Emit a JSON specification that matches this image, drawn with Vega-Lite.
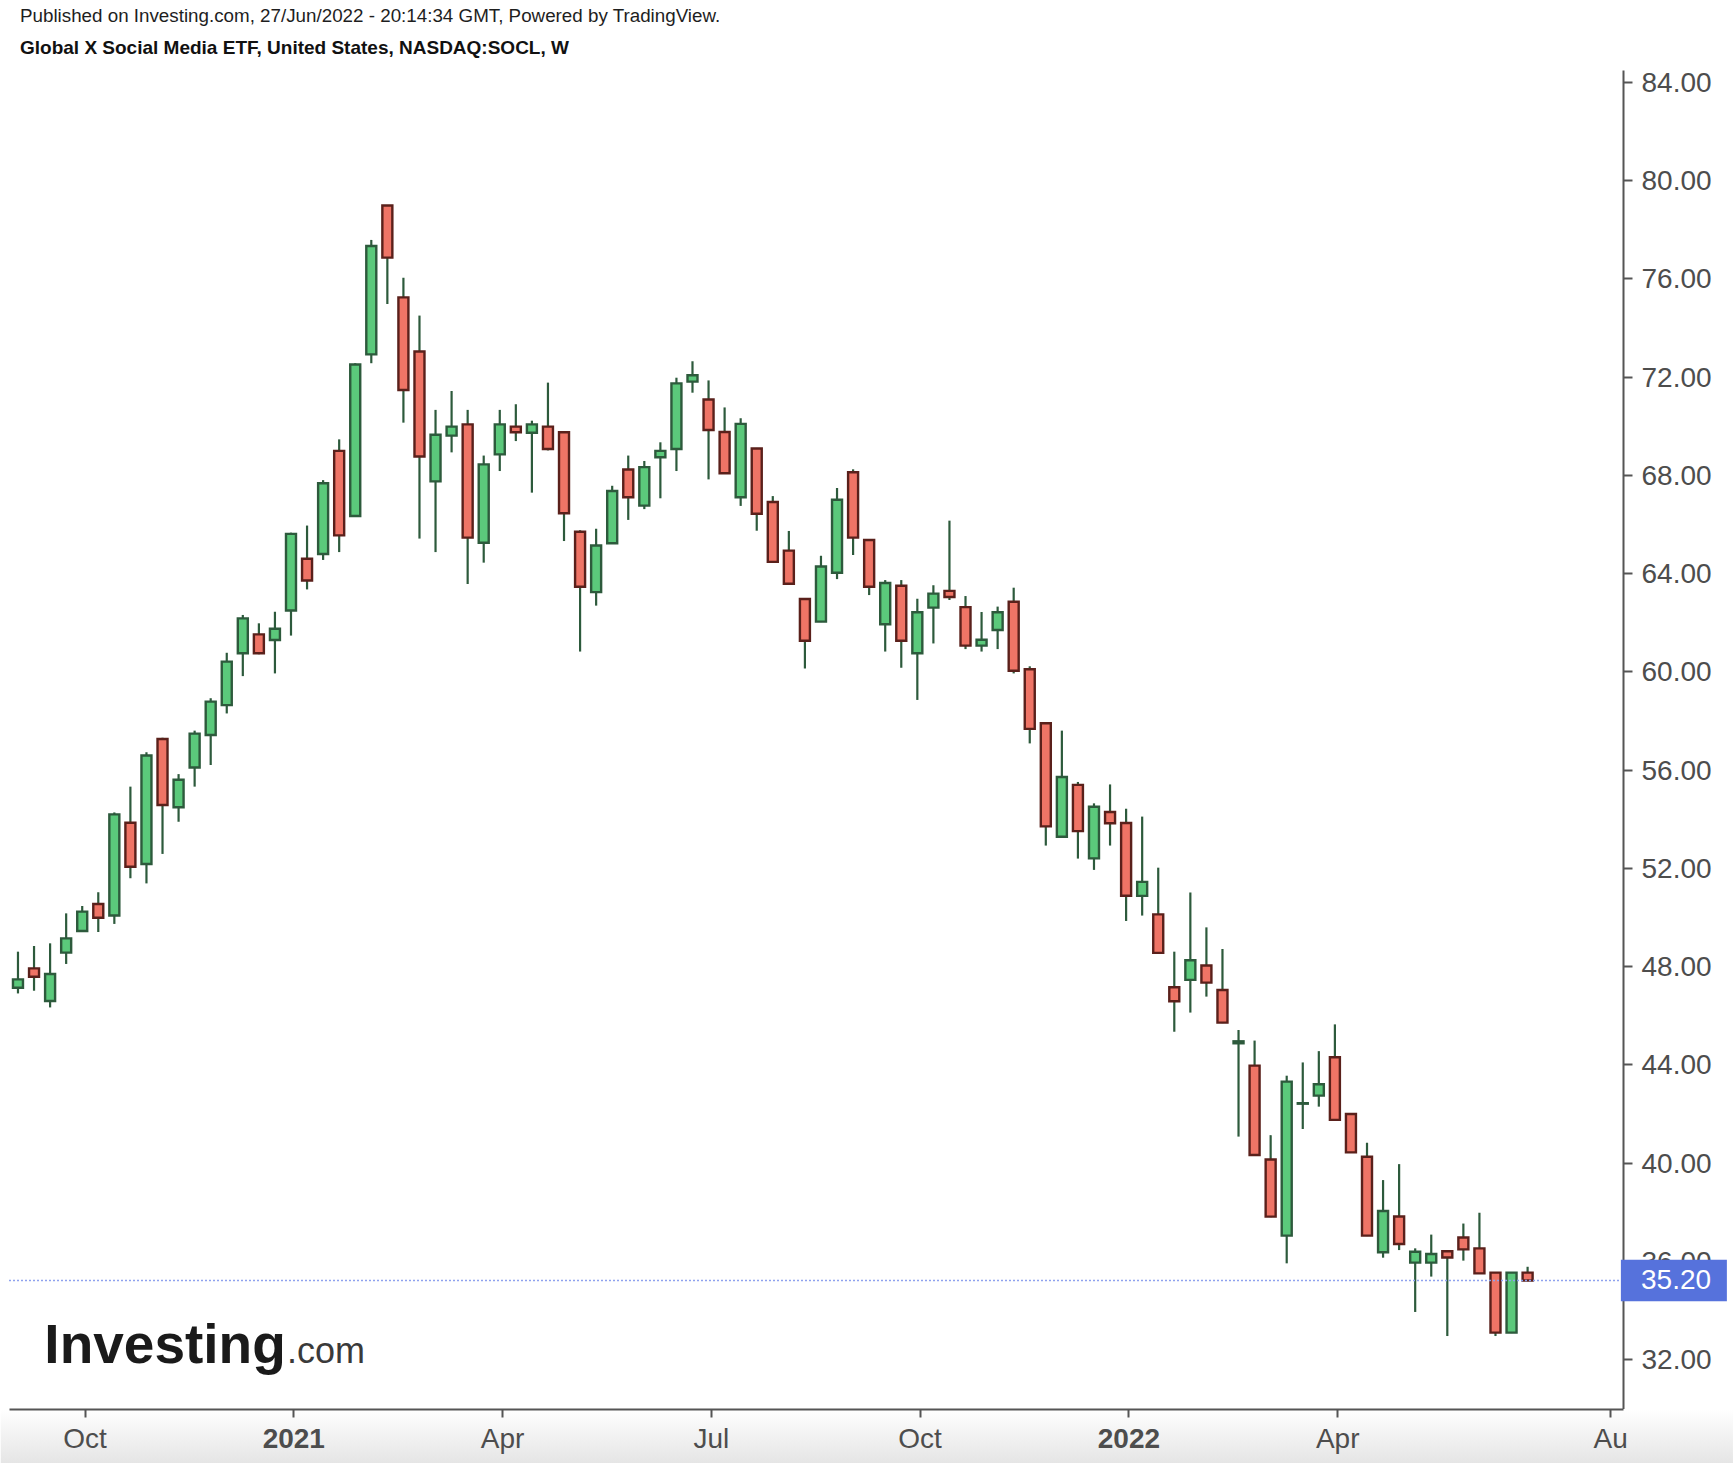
{
  "$schema": "https://vega.github.io/schema/vega-lite/v6.json",
  "width": 1614,
  "height": 1339,
  "autosize": {"type": "none"},
  "padding": {"left": 9, "top": 70, "right": 111, "bottom": 54},
  "background": "#ffffff",
  "config": {"view": {"stroke": null}, "font": "Liberation Sans"},
  "title": {
    "text": "Published on Investing.com, 27/Jun/2022 - 20:14:34 GMT, Powered by TradingView.",
    "subtitle": "Global X Social Media ETF, United States, NASDAQ:SOCL, W",
    "anchor": "start", "frame": "group", "dx": 11, "offset": 12,
    "font": "Liberation Sans", "fontSize": 18.8, "fontWeight": "normal", "color": "#1e1e1e",
    "subtitleFont": "Liberation Sans", "subtitleFontSize": 19, "subtitleFontWeight": "bold",
    "subtitleColor": "#111111", "subtitlePadding": 13
  },
  "datasets": {
    "candles": [
      {"date": "2020-09-07", "open": 47.12, "high": 48.59, "low": 46.89, "close": 47.46},
      {"date": "2020-09-14", "open": 47.91, "high": 48.82, "low": 47.00, "close": 47.57},
      {"date": "2020-09-21", "open": 46.58, "high": 48.93, "low": 46.32, "close": 47.68},
      {"date": "2020-09-28", "open": 48.55, "high": 50.15, "low": 48.09, "close": 49.13},
      {"date": "2020-10-05", "open": 49.43, "high": 50.45, "low": 49.40, "close": 50.22},
      {"date": "2020-10-12", "open": 50.53, "high": 51.01, "low": 49.39, "close": 49.97},
      {"date": "2020-10-19", "open": 50.06, "high": 54.26, "low": 49.72, "close": 54.18},
      {"date": "2020-10-26", "open": 53.84, "high": 55.31, "low": 51.58, "close": 52.05},
      {"date": "2020-11-02", "open": 52.16, "high": 56.71, "low": 51.37, "close": 56.58},
      {"date": "2020-11-09", "open": 57.25, "high": 57.30, "low": 52.57, "close": 54.56},
      {"date": "2020-11-16", "open": 54.47, "high": 55.82, "low": 53.88, "close": 55.59},
      {"date": "2020-11-23", "open": 56.09, "high": 57.59, "low": 55.31, "close": 57.47},
      {"date": "2020-11-30", "open": 57.41, "high": 58.91, "low": 56.19, "close": 58.77},
      {"date": "2020-12-07", "open": 58.63, "high": 60.76, "low": 58.29, "close": 60.40},
      {"date": "2020-12-14", "open": 60.74, "high": 62.30, "low": 59.81, "close": 62.16},
      {"date": "2020-12-21", "open": 61.51, "high": 61.96, "low": 60.70, "close": 60.74},
      {"date": "2020-12-28", "open": 61.28, "high": 62.43, "low": 59.92, "close": 61.74},
      {"date": "2021-01-04", "open": 62.48, "high": 65.65, "low": 61.46, "close": 65.60},
      {"date": "2021-01-11", "open": 64.59, "high": 65.94, "low": 63.34, "close": 63.70},
      {"date": "2021-01-18", "open": 64.78, "high": 67.79, "low": 64.54, "close": 67.66},
      {"date": "2021-01-25", "open": 68.98, "high": 69.45, "low": 64.86, "close": 65.54},
      {"date": "2021-02-01", "open": 66.33, "high": 72.55, "low": 66.30, "close": 72.50},
      {"date": "2021-02-08", "open": 72.91, "high": 77.57, "low": 72.55, "close": 77.32},
      {"date": "2021-02-15", "open": 78.97, "high": 78.99, "low": 74.96, "close": 76.85},
      {"date": "2021-02-22", "open": 75.23, "high": 76.03, "low": 70.13, "close": 71.46},
      {"date": "2021-03-01", "open": 73.03, "high": 74.49, "low": 65.41, "close": 68.75},
      {"date": "2021-03-08", "open": 67.74, "high": 70.65, "low": 64.86, "close": 69.64},
      {"date": "2021-03-15", "open": 69.60, "high": 71.42, "low": 68.92, "close": 69.97},
      {"date": "2021-03-22", "open": 70.06, "high": 70.65, "low": 63.56, "close": 65.45},
      {"date": "2021-03-29", "open": 65.24, "high": 68.79, "low": 64.43, "close": 68.43},
      {"date": "2021-04-05", "open": 68.84, "high": 70.65, "low": 68.16, "close": 70.06},
      {"date": "2021-04-12", "open": 69.97, "high": 70.88, "low": 69.38, "close": 69.74},
      {"date": "2021-04-19", "open": 69.72, "high": 70.21, "low": 67.28, "close": 70.06},
      {"date": "2021-04-26", "open": 69.97, "high": 71.76, "low": 69.00, "close": 69.06},
      {"date": "2021-05-03", "open": 69.74, "high": 69.76, "low": 65.31, "close": 66.44},
      {"date": "2021-05-10", "open": 65.69, "high": 65.75, "low": 60.81, "close": 63.45},
      {"date": "2021-05-17", "open": 63.23, "high": 65.81, "low": 62.68, "close": 65.13},
      {"date": "2021-05-24", "open": 65.22, "high": 67.56, "low": 65.20, "close": 67.35},
      {"date": "2021-05-31", "open": 68.22, "high": 68.79, "low": 66.17, "close": 67.09},
      {"date": "2021-06-07", "open": 66.75, "high": 68.57, "low": 66.61, "close": 68.32},
      {"date": "2021-06-14", "open": 68.72, "high": 69.33, "low": 67.05, "close": 68.98},
      {"date": "2021-06-21", "open": 69.06, "high": 71.96, "low": 68.16, "close": 71.73},
      {"date": "2021-06-28", "open": 71.80, "high": 72.63, "low": 71.35, "close": 72.06},
      {"date": "2021-07-05", "open": 71.07, "high": 71.85, "low": 67.82, "close": 69.83},
      {"date": "2021-07-12", "open": 69.75, "high": 70.75, "low": 68.05, "close": 68.07},
      {"date": "2021-07-19", "open": 67.09, "high": 70.31, "low": 66.74, "close": 70.08},
      {"date": "2021-07-26", "open": 69.08, "high": 69.10, "low": 65.73, "close": 66.42},
      {"date": "2021-08-02", "open": 66.90, "high": 67.14, "low": 64.44, "close": 64.46},
      {"date": "2021-08-09", "open": 64.92, "high": 65.72, "low": 63.55, "close": 63.57},
      {"date": "2021-08-16", "open": 62.95, "high": 62.97, "low": 60.12, "close": 61.25},
      {"date": "2021-08-23", "open": 62.03, "high": 64.71, "low": 62.01, "close": 64.27},
      {"date": "2021-08-30", "open": 64.02, "high": 67.47, "low": 63.76, "close": 66.99},
      {"date": "2021-09-06", "open": 68.11, "high": 68.23, "low": 64.74, "close": 65.45},
      {"date": "2021-09-13", "open": 65.35, "high": 65.37, "low": 63.11, "close": 63.45},
      {"date": "2021-09-20", "open": 61.92, "high": 63.72, "low": 60.81, "close": 63.60},
      {"date": "2021-09-27", "open": 63.49, "high": 63.72, "low": 60.15, "close": 61.25},
      {"date": "2021-10-04", "open": 60.74, "high": 62.96, "low": 58.84, "close": 62.41},
      {"date": "2021-10-11", "open": 62.60, "high": 63.51, "low": 61.14, "close": 63.17},
      {"date": "2021-10-18", "open": 63.28, "high": 66.14, "low": 62.91, "close": 63.03},
      {"date": "2021-10-25", "open": 62.62, "high": 63.07, "low": 60.91, "close": 61.05},
      {"date": "2021-11-01", "open": 61.05, "high": 62.42, "low": 60.81, "close": 61.29},
      {"date": "2021-11-08", "open": 61.69, "high": 62.64, "low": 60.91, "close": 62.41},
      {"date": "2021-11-15", "open": 62.84, "high": 63.41, "low": 59.92, "close": 60.03},
      {"date": "2021-11-22", "open": 60.09, "high": 60.21, "low": 57.07, "close": 57.66},
      {"date": "2021-11-29", "open": 57.89, "high": 57.91, "low": 52.91, "close": 53.69},
      {"date": "2021-12-06", "open": 53.27, "high": 57.59, "low": 53.25, "close": 55.70},
      {"date": "2021-12-13", "open": 55.38, "high": 55.50, "low": 52.38, "close": 53.50},
      {"date": "2021-12-20", "open": 52.39, "high": 54.63, "low": 51.92, "close": 54.49},
      {"date": "2021-12-27", "open": 54.28, "high": 55.40, "low": 52.91, "close": 53.82},
      {"date": "2022-01-03", "open": 53.83, "high": 54.41, "low": 49.84, "close": 50.87},
      {"date": "2022-01-10", "open": 50.86, "high": 54.09, "low": 50.06, "close": 51.43},
      {"date": "2022-01-17", "open": 50.11, "high": 52.01, "low": 48.52, "close": 48.54},
      {"date": "2022-01-24", "open": 47.14, "high": 48.59, "low": 45.33, "close": 46.57},
      {"date": "2022-01-31", "open": 47.44, "high": 51.00, "low": 46.11, "close": 48.24},
      {"date": "2022-02-07", "open": 48.03, "high": 49.58, "low": 46.76, "close": 47.33},
      {"date": "2022-02-14", "open": 47.03, "high": 48.70, "low": 45.68, "close": 45.70},
      {"date": "2022-02-21", "open": 44.86, "high": 45.40, "low": 41.06, "close": 44.94},
      {"date": "2022-02-28", "open": 43.95, "high": 44.97, "low": 40.29, "close": 40.31},
      {"date": "2022-03-07", "open": 40.13, "high": 41.12, "low": 37.78, "close": 37.80},
      {"date": "2022-03-14", "open": 37.03, "high": 43.54, "low": 35.90, "close": 43.30},
      {"date": "2022-03-21", "open": 42.40, "high": 44.08, "low": 41.37, "close": 42.42},
      {"date": "2022-03-28", "open": 42.73, "high": 44.54, "low": 42.28, "close": 43.19},
      {"date": "2022-04-04", "open": 44.29, "high": 45.63, "low": 41.72, "close": 41.74},
      {"date": "2022-04-11", "open": 41.98, "high": 42.00, "low": 40.40, "close": 40.42},
      {"date": "2022-04-18", "open": 40.24, "high": 40.81, "low": 37.01, "close": 37.03},
      {"date": "2022-04-25", "open": 36.35, "high": 39.29, "low": 36.13, "close": 38.03},
      {"date": "2022-05-02", "open": 37.81, "high": 39.94, "low": 36.44, "close": 36.69},
      {"date": "2022-05-09", "open": 35.93, "high": 36.51, "low": 33.92, "close": 36.37},
      {"date": "2022-05-16", "open": 35.93, "high": 37.07, "low": 35.36, "close": 36.28},
      {"date": "2022-05-23", "open": 36.39, "high": 36.41, "low": 32.94, "close": 36.14},
      {"date": "2022-05-30", "open": 36.95, "high": 37.52, "low": 36.01, "close": 36.47},
      {"date": "2022-06-06", "open": 36.51, "high": 37.96, "low": 35.47, "close": 35.49},
      {"date": "2022-06-13", "open": 35.52, "high": 35.54, "low": 32.94, "close": 33.08},
      {"date": "2022-06-20", "open": 33.08, "high": 35.52, "low": 33.06, "close": 35.52},
      {"date": "2022-06-27", "open": 35.52, "high": 35.76, "low": 35.18, "close": 35.20}
    ],
    "last": [{"price": 35.20}]
  },
  "layer": [
    {
      "data": {"values": [{"band": "time axis"}]},
      "mark": {
        "type": "rect",
        "fill": {"gradient": "linear", "x1": 0, "y1": 0, "x2": 0, "y2": 1,
                 "stops": [{"offset": 0, "color": "#ffffff"}, {"offset": 1, "color": "#e3e3e3"}]}
      },
      "encoding": {
        "x": {"datum": {"year": 2020, "month": 8, "date": 30, "hours": 12, "utc": true}, "type": "temporal"},
        "x2": {"datum": {"year": 2022, "month": 9, "date": 24, "hours": 12, "utc": true}},
        "y": {"datum": 29.969, "type": "quantitative"},
        "y2": {"datum": 27.6}
      }
    },
    {
      "data": {"name": "candles"},
      "mark": {"type": "rule", "color": "#2d5a3c", "strokeWidth": 2.2},
      "encoding": {
        "x": {
          "field": "date", "type": "temporal",
          "scale": {
            "type": "utc",
            "domain": [
              {"year": 2020, "month": 9, "date": 5, "hours": 6, "minutes": 24, "utc": true},
              {"year": 2022, "month": 8, "date": 5, "hours": 9, "minutes": 36, "utc": true}
            ]
          },
          "axis": {
            "title": null, "zindex": 1,
            "values": [
              {"year": 2020, "month": 10, "date": 6, "utc": true},
              {"year": 2021, "month": 1, "date": 5, "utc": true},
              {"year": 2021, "month": 4, "date": 6, "utc": true},
              {"year": 2021, "month": 7, "date": 6, "utc": true},
              {"year": 2021, "month": 10, "date": 5, "utc": true},
              {"year": 2022, "month": 1, "date": 4, "utc": true},
              {"year": 2022, "month": 4, "date": 5, "utc": true},
              {"year": 2022, "month": 8, "date": 2, "utc": true}
            ],
            "labelExpr": "utcmonth(datum.value) == 0 ? utcFormat(datum.value, '%Y') : (utcmonth(datum.value) == 7 ? 'Au' : utcFormat(datum.value, '%b'))",
            "labelFontWeight": {"condition": {"test": "utcmonth(datum.value) == 0", "value": "bold"}, "value": "normal"},
            "labelFont": "Liberation Sans", "labelFontSize": 28, "labelColor": "#4d4d4d",
            "labelPadding": 8, "labelOverlap": false, "labelFlush": false,
            "grid": false, "domainColor": "#555555", "domainWidth": 2,
            "tickColor": "#555555", "tickWidth": 2, "tickSize": 8
          }
        },
        "y": {
          "field": "low", "type": "quantitative",
          "scale": {"domain": [29.969, 84.489], "zero": false, "nice": false},
          "axis": {
            "orient": "right", "title": null,
            "values": [32, 36, 40, 44, 48, 52, 56, 60, 64, 68, 72, 76, 80, 84],
            "format": ".2f",
            "labelFont": "Liberation Sans", "labelFontSize": 28, "labelColor": "#4d4d4d",
            "labelPadding": 9, "labelOffset": 1.5, "grid": false,
            "domainColor": "#555555", "domainWidth": 2,
            "tickColor": "#555555", "tickWidth": 2, "tickSize": 9
          }
        },
        "y2": {"field": "high"}
      }
    },
    {
      "data": {"name": "candles"},
      "mark": {"type": "bar", "size": 10, "strokeWidth": 2.4},
      "encoding": {
        "x": {"field": "date", "type": "temporal"},
        "y": {"field": "open", "type": "quantitative"},
        "y2": {"field": "close"},
        "fill": {"condition": {"test": "datum.close >= datum.open", "value": "#5bc97b"}, "value": "#ef7466"},
        "stroke": {"condition": {"test": "datum.close >= datum.open", "value": "#2d5a3c"}, "value": "#5a201b"}
      }
    },
    {
      "data": {"name": "last"},
      "mark": {"type": "rule", "color": "#8fa2ee", "strokeWidth": 1.6, "strokeDash": [2, 2]},
      "encoding": {"y": {"field": "price", "type": "quantitative"}}
    },
    {
      "data": {"name": "last"},
      "mark": {
        "type": "point", "filled": true, "fill": "#5672dc", "opacity": 1, "strokeWidth": 0,
        "shape": "M-0.04,-0.39 L1.96,-0.39 L1.96,0.39 L-0.04,0.39 Z", "size": 11236
      },
      "encoding": {
        "x": {"value": "width"},
        "y": {"field": "price", "type": "quantitative"}
      }
    },
    {
      "data": {"name": "last"},
      "mark": {"type": "text", "align": "left", "baseline": "middle", "dx": 18, "color": "#ffffff", "font": "Liberation Sans", "fontSize": 28},
      "encoding": {
        "x": {"value": "width"},
        "y": {"field": "price", "type": "quantitative"},
        "text": {"field": "price", "type": "quantitative", "format": ".2f"}
      }
    },
    {
      "data": {"values": [{"t": "Investing"}]},
      "mark": {"type": "text", "align": "left", "baseline": "alphabetic", "font": "Liberation Sans", "fontWeight": "bold", "fontSize": 55, "color": "#1a1a1a"},
      "encoding": {
        "x": {"datum": {"year": 2020, "month": 9, "date": 18, "hours": 12, "utc": true}, "type": "temporal"},
        "y": {"datum": 31.86, "type": "quantitative"},
        "text": {"field": "t"}
      }
    },
    {
      "data": {"values": [{"t": ".com"}]},
      "mark": {"type": "text", "align": "left", "baseline": "alphabetic", "font": "Liberation Sans", "fontSize": 36, "color": "#3a3a3a"},
      "encoding": {
        "x": {"datum": {"year": 2021, "month": 1, "date": 2, "hours": 6, "utc": true}, "type": "temporal"},
        "y": {"datum": 31.86, "type": "quantitative"},
        "text": {"field": "t"}
      }
    }
  ]
}
